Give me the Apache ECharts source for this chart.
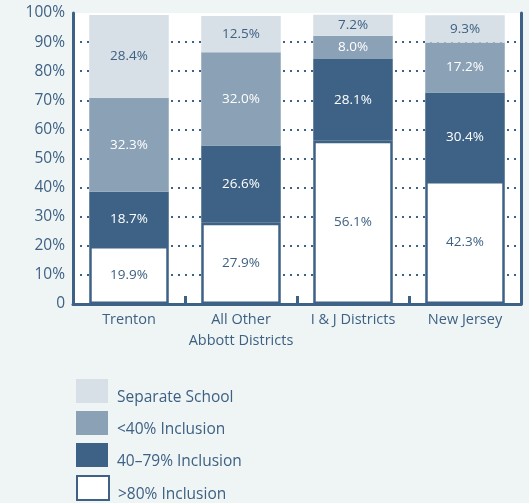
<!DOCTYPE html>
<html>
<head>
<meta charset="utf-8">
<script src="https://cdn.jsdelivr.net/npm/echarts@6/dist/echarts.min.js"></script>
<style>
html,body{margin:0;padding:0;background:#eff5f5;}
#c{width:529px;height:503px;}
</style>
</head>
<body>
<div id="c"></div>
<script>
const categories = ['Trenton', 'All Other\nAbbott Districts', 'I & J Districts', 'New Jersey'];
const incl80 = [19.9, 27.9, 56.1, 42.3];
const incl40to79 = [18.7, 26.6, 28.1, 30.4];
const inclUnder40 = [32.3, 32.0, 8.0, 17.2];
const separate = [28.4, 12.5, 7.2, 9.3];
const yTickLabels = ['0', '10%', '20%', '30%', '40%', '50%', '60%', '70%', '80%', '90%', '100%'];
const legendNames = ['Separate School', '<40% Inclusion', '40\u201379% Inclusion', '>80% Inclusion'];

const DARK = '#3d6285';
const MID = '#8aa1b6';
const LIGHT = '#d7e0e7';
const TXT = '#3e6183';
const FONT = 'Open Sans';

function mk(name, data, color, labelColor, extra) {
  return Object.assign({
    name: name,
    type: 'bar',
    stack: 'all',
    barWidth: '71%',
    data: data,
    itemStyle: { color: color },
    label: {
      show: true,
      position: 'inside',
      color: labelColor,
      fontFamily: FONT,
      fontSize: 13.5,
      formatter: p => p.value.toFixed(1) + '%'
    }
  }, extra || {});
}

const legends = legendNames.map((n, i) => ({
  orient: 'vertical',
  left: 76,
  top: 379 + i * 32,
  padding: 0,
  itemWidth: 32,
  itemHeight: 24,
  icon: 'rect',
  selectedMode: false,
  data: [n],
  formatter: name => '{t|' + name + '}',
  textStyle: {
    color: TXT, fontFamily: FONT, fontSize: 15.5,
    rich: { t: { color: TXT, fontFamily: FONT, fontSize: 15.5, padding: [14, 0, 0, 4] } }
  }
}));

const chart = echarts.init(document.getElementById('c'));
chart.setOption({
  animation: false,
  backgroundColor: '#eff5f5',
  grid: { left: 73, right: 8, top: 13, height: 291, show: true, backgroundColor: '#ffffff', borderWidth: 0 },
  legend: legends,
  xAxis: {
    type: 'category',
    data: categories,
    axisLine: { lineStyle: { color: DARK, width: 3 } },
    axisTick: { show: true, inside: true, interval: 0, length: 8, lineStyle: { color: DARK, width: 3 } },
    axisLabel: { interval: 0, color: TXT, fontFamily: FONT, fontSize: 14.5, margin: 5, lineHeight: 21 }
  },
  yAxis: [{
    type: 'value',
    min: 0, max: 100, interval: 10,
    axisLine: { show: true, lineStyle: { color: DARK, width: 3 } },
    axisTick: { show: false },
    axisLabel: { color: TXT, fontFamily: FONT, fontSize: 15.5, margin: 8, padding: [6, 0, 0, 0],
      formatter: (v) => yTickLabels[Math.round(v / 10)] },
    splitLine: { show: true, showMinLine: false, showMaxLine: false,
      lineStyle: { color: DARK, width: 2, type: [2, 5] } }
  }, {
    type: 'value',
    position: 'right',
    min: 0, max: 100, interval: 10,
    axisLine: { show: true, lineStyle: { color: DARK, width: 3 } },
    axisTick: { show: false },
    axisLabel: { show: false },
    splitLine: { show: false }
  }],
  series: [
    mk('>80% Inclusion', incl80, '#ffffff', TXT, {
      itemStyle: { color: '#ffffff', borderColor: DARK, borderWidth: 2.5 }
    }),
    mk('40\u201379% Inclusion', incl40to79, DARK, '#ffffff'),
    mk('<40% Inclusion', inclUnder40, MID, '#ffffff'),
    mk('Separate School', separate, LIGHT, TXT)
  ]
});
</script>
</body>
</html>
